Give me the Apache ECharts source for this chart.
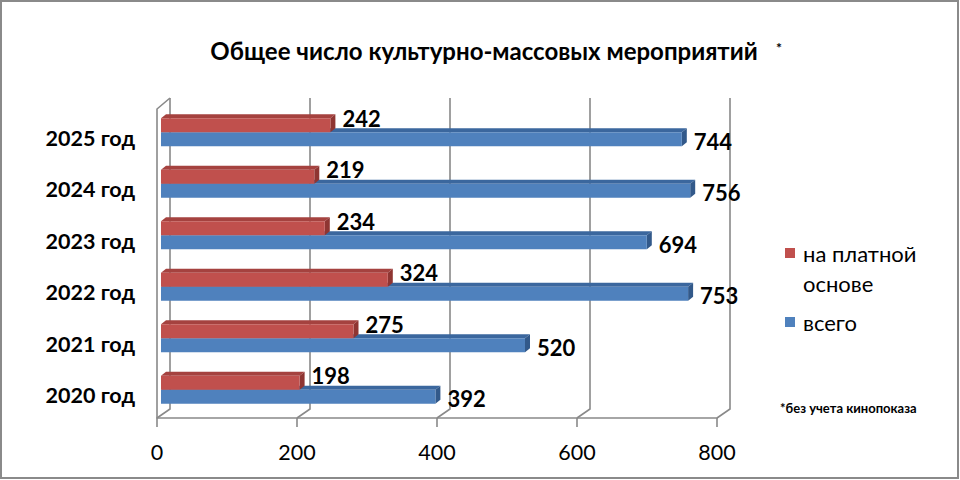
<!DOCTYPE html>
<html><head><meta charset="utf-8">
<script src="https://cdn.jsdelivr.net/npm/echarts@6/dist/echarts.min.js"></script>
<style>html,body{margin:0;padding:0;background:#fff}#c{width:960px;height:480px}</style>
</head><body><div id="c"></div>
<script>
const categories = ['2020 год', '2021 год', '2022 год', '2023 год', '2024 год', '2025 год'];
const paidValues = [198, 275, 324, 234, 219, 242];
const totalValues = [392, 520, 753, 694, 756, 744];
const xTicks = [0, 200, 400, 600, 800];
const seriesNames = ['на платной основе', 'всего'];
const legendLabels = [' \nна платной\nоснове', 'всего'];
const titleText = 'Общее число культурно-массовых мероприятий';
const footnoteText = '*без учета кинопоказа';

const FONT = 'Lato';
const GRID_COLOR = '#898989';
const RED = { front: '#C0504D', top: '#A5423F', side: '#8F3532' };
const BLUE = { front: '#4F81BD', top: '#3B679E', side: '#32598A' };

const BAR_H = 14, BDX = 5, BDY = 4, BAR_X = 4, BAR_Y = -2.5;
const WDX = 13, WDY_TOP = 11, WDY_BOT = 9;

const chart = echarts.init(document.getElementById('c'), null, { renderer: 'svg' });

function barRenderer(isPaid, colors) {
  return function (params, api) {
    const val = api.value(0), cat = api.value(1);
    const end = api.coord([val, cat]);
    const start = api.coord([0, cat]);
    const yB = end[1] + BAR_Y;
    const yt = isPaid ? yB - BAR_H : yB;
    const yb = isPaid ? yB : yB + BAR_H;
    const xl = start[0] + BAR_X, xr = end[0] + BAR_X;
    return {
      type: 'group',
      children: [
        { type: 'polygon', shape: { points: [[xl, yt], [xl + BDX, yt - BDY], [xr + BDX, yt - BDY], [xr, yt]] }, style: { fill: colors.top } },
        { type: 'polygon', shape: { points: [[xr, yt], [xr + BDX, yt - BDY], [xr + BDX, yb - BDY], [xr, yb]] }, style: { fill: colors.side } },
        { type: 'rect', shape: { x: xl, y: yt, width: xr - xl, height: yb - yt }, style: { fill: colors.front } },
        { type: 'text', x: xr + BDX + 7, y: isPaid ? yt : (yt + yb) / 2 + 2,
          style: { text: String(val), fontFamily: FONT, fontSize: 22, fontWeight: 'bold', fill: '#000', verticalAlign: 'middle', align: 'left' } }
      ]
    };
  };
}

function wallRenderer(params, api) {
  const v = api.value(0);
  const cs = params.coordSys;
  const x = api.coord([v, 0])[0];
  const top = cs.y - WDY_TOP, bot = cs.y + cs.height;
  const bx = x + WDX;
  const st = { stroke: GRID_COLOR, lineWidth: 1.6, fill: null };
  const children = [
    { type: 'polyline', shape: { points: [[bx, top], [bx, bot - WDY_BOT], [x, bot]] }, style: st }
  ];
  if (v === xTicks[0]) {
    children.push({ type: 'polyline', shape: { points: [[x, bot], [x, cs.y], [bx, top]] }, style: st });
  }
  return { type: 'group', children };
}

const option = {
  backgroundColor: '#fff',
  animation: false,
  title: [
    { text: titleText, left: 484, top: 38, textAlign: 'center', padding: 0,
      textStyle: { fontFamily: FONT, fontSize: 24, fontWeight: 'bold', color: '#000' } },
    { text: '*', left: 776, top: 40, padding: 0,
      textStyle: { fontFamily: FONT, fontSize: 14, fontWeight: 'bold', color: '#000' } },
    { text: footnoteText, left: 780, top: 401, padding: 0,
      textStyle: { fontFamily: FONT, fontSize: 13, fontWeight: 'bold', color: '#000' } }
  ],
  legend: {
    orient: 'vertical', left: 785, top: 208, itemWidth: 10, itemHeight: 10, itemGap: 9,
    padding: 0, icon: 'rect', selectedMode: false,
    data: [
      { name: seriesNames[0], textStyle: { padding: [0, 0, 0, 3] } },
      { name: seriesNames[1], textStyle: { padding: [0, 0, 0, 3] } }
    ],
    formatter: function (name) { return legendLabels[seriesNames.indexOf(name)]; },
    textStyle: { fontFamily: FONT, fontSize: 22, color: '#000', lineHeight: 30 }
  },
  grid: { left: 157, right: 243, top: 109, bottom: 62 },
  xAxis: {
    type: 'value', min: 0, max: 800, interval: 200,
    axisLine: { show: true, lineStyle: { color: GRID_COLOR, width: 1.6 } },
    axisTick: { show: true, length: 9, lineStyle: { color: GRID_COLOR, width: 1.6 } },
    splitLine: { show: false },
    axisLabel: { margin: 23, fontFamily: FONT, fontSize: 21.5, color: '#000' }
  },
  yAxis: {
    type: 'category', data: categories,
    axisLine: { show: false }, axisTick: { show: false },
    axisLabel: {
      margin: 22,
      formatter: function (v) { return '{a|' + v + '}'; },
      rich: { a: { fontFamily: FONT, fontSize: 21.5, fontWeight: 'bold', color: '#000', padding: [6, 0, 0, 0] } }
    }
  },
  graphic: [
    { type: 'rect', shape: { x: 1, y: 1, width: 957, height: 477 }, style: { fill: null, stroke: '#8a8a8a', lineWidth: 2 }, silent: true }
  ],
  series: [
    { type: 'custom', name: 'walls', renderItem: wallRenderer, data: xTicks.map(v => [v, 0]), silent: true, z: 1 },
    { type: 'custom', name: seriesNames[1], renderItem: barRenderer(false, BLUE),
      itemStyle: { color: BLUE.front }, data: totalValues.map((v, i) => [v, i]), z: 2 },
    { type: 'custom', name: seriesNames[0], renderItem: barRenderer(true, RED),
      itemStyle: { color: RED.front }, data: paidValues.map((v, i) => [v, i]), z: 3 }
  ]
};
chart.setOption(option);
</script>
</body></html>
